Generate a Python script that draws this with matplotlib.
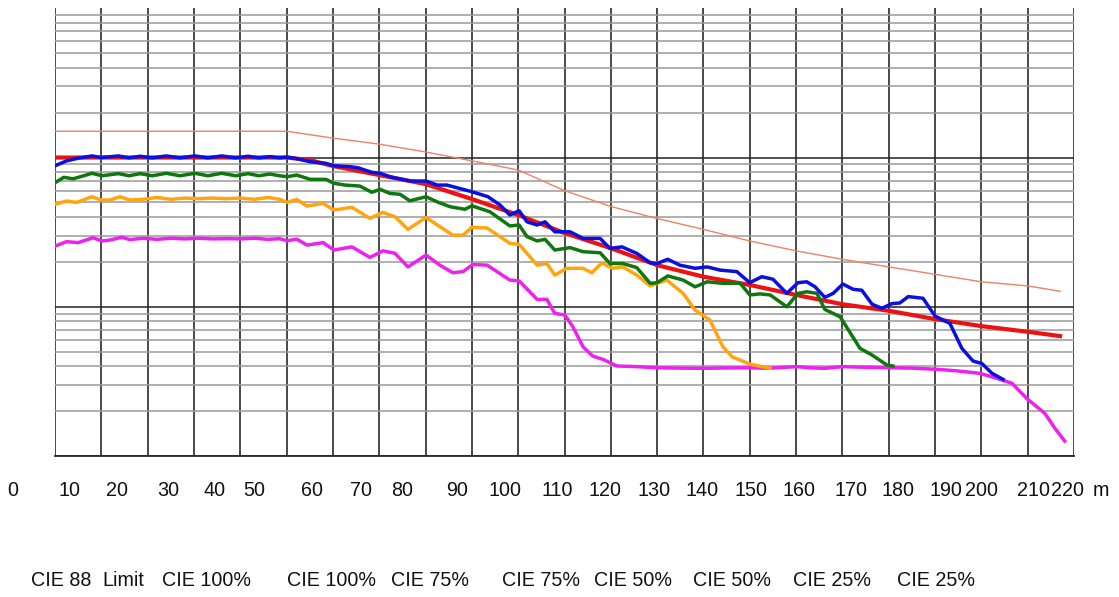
import matplotlib
matplotlib.use("Agg")
import matplotlib.pyplot as plt
from matplotlib.ticker import FixedLocator, NullFormatter

plt.rcParams['font.family'] = ['Liberation Sans', 'DejaVu Sans']

# ---------------- data ----------------
limit_d = [0, 50, 60, 70, 80, 90, 100, 110, 120, 130, 140, 150, 160, 170, 180, 190, 200, 210, 217]
limit_v = [150, 150, 135, 123, 109, 95, 82.5, 60, 47, 39, 33, 27.6, 23.7, 20.8, 18.5, 16.5, 14.7, 13.8, 12.7]

red_d = [0, 50, 55, 60, 70, 80, 90, 100, 110, 120, 130, 140, 150, 160, 170, 180, 190, 200, 210, 217]
red_v = [100, 100, 96.2, 87.7, 76.3, 66.4, 52.7, 41.2, 31.2, 24.7, 19.0, 15.9, 14.0, 12.0, 10.4, 9.4, 8.27, 7.42, 6.80, 6.36]

blue_d = [0, 2.5, 5, 8, 10, 13.7, 16, 18.4, 21, 24, 27, 30.2, 33, 36, 39, 41.7, 44, 46.4, 48.5, 50.1,
          51.8, 55.1, 58.5, 60.2, 63.7, 65.4, 68.4, 70.2, 72.3, 76.6, 80.1, 82.5, 84.6, 88.1, 90.0,
          93.5, 96.1, 98.2, 100.2, 101.9, 104.1, 105.8, 107.9, 111.2, 114.0, 117.7, 119.8, 122.4,
          125.6, 128.5, 130.0, 132.3, 134.9, 138.2, 140.8, 143.6, 147.2, 150.0, 152.6, 155.0, 158.0,
          160.4, 162.3, 164.1, 166.2, 168.0, 170.1, 172.3, 174.2, 176.4, 178.5, 180.7, 182.4, 184.2,
          187.4, 190.0, 193.2, 195.8, 198.2, 200.1, 202.3, 204.7]
blue_v = [88, 95, 99, 102.5, 100, 102.5, 99.5, 102, 99.5, 102.5, 99.5, 102.5, 99.5, 102.5, 99.5, 102,
          99.5, 101.5, 99.5, 100.8, 98.8, 93.7, 91.4, 88.1, 86.8, 85.4, 79.6, 78.4, 74.4, 69.6, 69.6,
          65.4, 65.4, 61.2, 59.0, 54.6, 48.0, 41.2, 44.0, 37.1, 35.3, 37.1, 31.8, 31.8, 28.7, 28.7,
          24.6, 25.2, 22.8, 19.7, 19.5, 20.8, 19.0, 18.1, 18.5, 17.6, 17.2, 14.5, 15.9, 15.3, 12.3,
          14.5, 14.7, 13.6, 11.56, 12.3, 14.2, 13.1, 12.9, 10.4, 9.76, 10.5, 10.6, 11.7, 11.4, 8.66,
          7.74, 5.26, 4.33, 4.17, 3.58, 3.26]

green_d = [0, 1.9, 3.9, 8.0, 10.1, 13.7, 16, 18.4, 21, 24, 27, 30.2, 33, 36, 39, 41.7, 44, 46.4, 48.5,
           50.1, 52.2, 55.1, 58.5, 60.2, 62.6, 65.8, 68.4, 70.2, 72.3, 74.5, 76.6, 80.1, 82.5, 85.3,
           88.5, 90.0, 93.9, 98.2, 100.2, 101.9, 104.1, 105.8, 107.9, 111.2, 114.0, 117.7, 119.8,
           122.6, 125.6, 128.5, 130.0, 132.3, 135.6, 138.2, 140.8, 144.2, 147.9, 150.0, 152.2, 154.4,
           158.0, 160.4, 162.3, 164.5, 166.2, 169.5, 173.8, 176.4, 179.6, 180.9]
green_v = [67.8, 73.7, 72.0, 78.4, 75.5, 78, 75.5, 78, 75.5, 78.4, 75.5, 78.4, 75.5, 78.4, 75.5, 78,
           75.5, 77.5, 75.5, 74.4, 76.3, 71.4, 71.4, 67.2, 65.4, 64.4, 58.5, 61.2, 57.5, 56.7, 51.3,
           54.6, 50.5, 46.8, 45.0, 47.5, 43.3, 34.8, 35.3, 29.5, 27.6, 28.3, 24.0, 24.9, 23.4, 23.0,
           19.5, 19.5, 18.3, 14.35, 14.5, 16.1, 15.1, 13.6, 14.7, 14.35, 14.4, 12.0, 12.2, 12.0, 10.0,
           12.3, 12.6, 12.3, 9.6, 8.57, 5.26, 4.75, 4.07, 4.01]

orange_d = [0, 2.5, 4.7, 7.9, 10.1, 11.9, 14.0, 16.2, 19, 22, 25, 28, 31, 34, 37, 40, 43, 46, 48.5,
            50.1, 52.2, 54.4, 57.9, 60.2, 64.1, 68.0, 70.8, 73.4, 76.2, 80.1, 83.1, 85.9, 88.1, 90.0,
            93.3, 98.2, 100.2, 104.1, 106.2, 107.9, 110.5, 114.0, 115.9, 118.1, 120.3, 122.6, 125.6,
            128.5, 132.1, 135.6, 138.2, 141.4, 144.2, 146.2, 150.0, 154.4]
orange_v = [48.6, 51.1, 50.0, 54.6, 51.9, 51.9, 54.6, 51.9, 52.5, 54, 52.5, 53.5, 53, 53.5, 53, 53.5,
            52.5, 54, 52.5, 50.1, 52.4, 47.3, 49.3, 44.5, 46.4, 39.1, 42.9, 40.1, 33.0, 39.7, 34.4,
            30.2, 30.2, 34.1, 33.7, 26.6, 26.2, 19.0, 19.5, 16.3, 18.1, 18.1, 16.9, 19.7, 18.1, 18.5,
            16.3, 13.8, 15.1, 12.3, 9.5, 8.15, 5.39, 4.62, 4.13, 3.87]

mag_d = [0, 2.5, 5.0, 8.2, 10.1, 11.9, 14.4, 16.2, 19, 22, 25, 28, 31, 34, 37, 40, 43, 46, 48.5, 50.1,
         52.2, 54.4, 57.9, 60.2, 64.1, 68.0, 70.8, 73.4, 76.2, 80.1, 83.1, 85.9, 88.1, 90.2, 93.3,
         98.2, 100.2, 104.1, 106.2, 107.9, 110.1, 111.8, 114.0, 116.1, 118.3, 121.3, 125.6, 130.0,
         135, 139.9, 145, 150.0, 153.9, 157, 160.2, 163, 166.2, 170.1, 175, 180.3, 185, 190.4, 194.7,
         199.7, 203.4, 206.6, 209.8, 213.7, 215.9, 218.0]
mag_v = [25.5, 27.3, 26.9, 29.0, 27.6, 28.0, 29.2, 28.2, 28.8, 28.3, 28.8, 28.5, 28.8, 28.5, 28.6, 28.5,
         28.8, 28.3, 28.6, 27.7, 28.4, 25.9, 26.9, 24.0, 25.2, 21.4, 23.7, 22.8, 18.5, 22.2, 19.0,
         16.9, 17.2, 19.2, 19.0, 15.1, 14.9, 11.2, 11.2, 9.03, 8.80, 7.35, 5.39, 4.67, 4.44, 4.01,
         3.97, 3.90, 3.88, 3.87, 3.89, 3.90, 3.87, 3.92, 3.97, 3.90, 3.87, 3.97, 3.93, 3.90, 3.88,
         3.81, 3.72, 3.58, 3.31, 3.07, 2.43, 1.93, 1.53, 1.26]

tick_labels = ["0", "10", "20", "30", "40", "50", "60", "70", "80", "90", "100", "110", "120", "130",
               "140", "150", "160", "170", "180", "190", "200", "210", "220", "m"]
legend_labels = ["CIE 88", "Limit", "CIE 100%", "CIE 100%", "CIE 75%", "CIE 75%",
                 "CIE 50%", "CIE 50%", "CIE 25%", "CIE 25%"]

# label placement (pixel positions in the 1119x597 image)
tick_label_px = [13, 69.7, 117, 167.8, 215, 254.5, 312.5, 361, 401.7, 457.5, 504.7, 557.5, 605,
                 653.8, 701.7, 751, 799.5, 850.5, 898, 946, 982, 1033, 1067.5, 1100.8]
legend_px = [30.7, 102.7, 162.3, 286.7, 390.7, 501.7, 594, 692.7, 793.3, 896.7]

W, H = 1119, 597
fig = plt.figure(figsize=(W / 100, H / 100), dpi=100)
ax = fig.add_axes([55 / W, 1 - 456 / H, (1074 - 55) / W, (456 - 8.3) / H])

ax.set_yscale('log')
ax.set_xlim(0, 220)
ax.set_ylim(1, 1000)

for s in ax.spines.values():
    s.set_visible(False)
ax.spines['bottom'].set_visible(True)
ax.spines['bottom'].set_color('#2a2a2a')
ax.spines['bottom'].set_linewidth(1.3)

# grid lines
ax.xaxis.set_major_locator(FixedLocator(list(range(0, 221, 10))))
ax.yaxis.set_major_locator(FixedLocator([1, 10, 100]))
ax.yaxis.set_minor_locator(FixedLocator([k * 10 ** e for e in range(3) for k in range(2, 10)]))
ax.yaxis.set_minor_formatter(NullFormatter())
ax.set_xticklabels([])
ax.set_yticklabels([])
ax.tick_params(which='both', length=0)
ax.grid(True, which='minor', axis='y', color='#9a9a9a', lw=1.1, zorder=0)
ax.grid(True, which='major', axis='y', color='#222222', lw=1.1, zorder=0)
ax.grid(True, which='major', axis='x', color='#2a2a2a', lw=1.2, zorder=0.5)
ax.set_axisbelow(True)

ax.plot(limit_d, limit_v, color='#f08068', lw=1.0, zorder=2)
ax.plot(red_d, red_v, color='#ee1111', lw=3.0, zorder=3)
ax.plot(mag_d, mag_v, color='#ee22ee', lw=2.5, zorder=4)
ax.plot(orange_d, orange_v, color='#ffa510', lw=2.5, zorder=5)
ax.plot(green_d, green_v, color='#0e780e', lw=2.5, zorder=6)
ax.plot(blue_d, blue_v, color='#0a10e0', lw=2.5, zorder=7)

fs = 14.2
for lab, px in zip(tick_labels, tick_label_px):
    fig.text(px / W, 1 - 496 / H, lab, ha='center', va='baseline', fontsize=fs, color='#111111')
for lab, px in zip(legend_labels, legend_px):
    fig.text(px / W, 1 - 586.5 / H, lab, ha='left', va='baseline', fontsize=fs, color='#111111')

fig.savefig('out.png', dpi=100, facecolor='white')
